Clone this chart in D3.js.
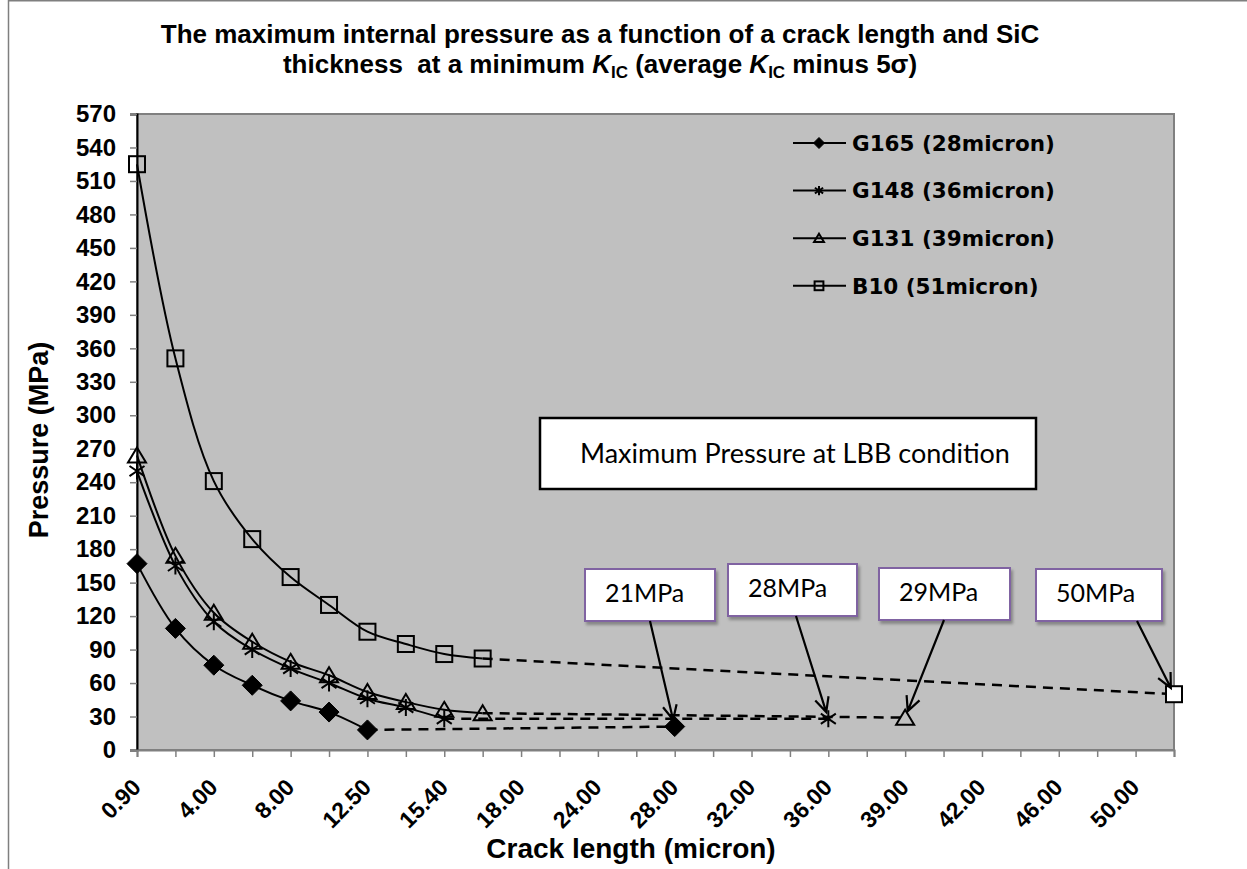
<!DOCTYPE html>
<html>
<head>
<meta charset="utf-8">
<script src="https://cdn.jsdelivr.net/npm/d3@7"></script>
<style>
  body { margin: 0; background: #fff; }
  svg { display: block; }
</style>
</head>
<body>
<div id="chart"></div>
<script>
// crack length categories on the x axis (every other one carries a label)
const crackLengths = ["0.90", "2.00", "4.00", "6.00", "8.00", "10.00", "12.50", "14.00", "15.40", "16.00",
    "18.00", "20.00", "24.00", "26.00", "28.00", "30.00", "32.00", "34.00", "36.00", "38.00",
    "39.00", "40.00", "42.00", "44.00", "46.00", "48.00", "50.00", "51.00"];
const pressureTicks = d3.range(0, 571, 30);

const seriesNames = ["G165 (28micron)", "G148 (36micron)", "G131 (39micron)", "B10 (51micron)"];
const markerTypes = ["diamond", "star", "triangle", "square"];

// pressure (MPa) at the first crack lengths, one array per sample
const g165 = [167, 109, 76, 58, 44, 34, 18];
const g148 = [250, 165, 115, 90, 73, 60, 46, 38, 28];
const g131 = [264, 174, 123, 97, 79, 67, 52, 43, 36, 33];
const b10 = [525, 351, 241, 189, 155, 130, 106, 95, 86, 82];

// maximum pressure at the LBB condition (crack length = SiC thickness)
const lbbCrack = ["28.00", "36.00", "39.00", "51.00"];
const lbbPressure = [21, 28, 29, 50];
const lbbLabels = ["21MPa", "28MPa", "29MPa", "50MPa"];

const width = 1247, height = 869;
const plot = {left: 137, right: 1174, top: 114, bottom: 750};

const svg = d3.select("#chart").append("svg")
    .attr("width", width)
    .attr("height", height)
    .style("font-family", "'Liberation Sans', Arial, sans-serif");

const defs = svg.append("defs");
defs.append("filter").attr("id", "shadow")
    .attr("x", "-10%").attr("y", "-10%").attr("width", "130%").attr("height", "140%")
    .append("feDropShadow")
    .attr("dx", 2).attr("dy", 3).attr("stdDeviation", 1.5)
    .attr("flood-color", "#000").attr("flood-opacity", 0.3);

// outer chart frame (only top and left edges fall inside the page)
svg.append("path")
    .attr("d", `M8.5,${height}V0.75H${width}`)
    .attr("fill", "none")
    .attr("stroke", "#7f7f7f")
    .attr("stroke-width", 1.5);

const x = d3.scalePoint().domain(crackLengths).range([plot.left, plot.right]);
const y = d3.scaleLinear().domain([0, 570]).range([plot.bottom, plot.top]);

// plot area
svg.append("rect")
    .attr("x", plot.left).attr("y", plot.top)
    .attr("width", plot.right - plot.left).attr("height", plot.bottom - plot.top)
    .attr("fill", "#c0c0c0")
    .attr("stroke", "#808080")
    .attr("stroke-width", 2);

// axes
const yAxis = svg.append("g")
    .attr("transform", `translate(${plot.left},0)`)
    .call(d3.axisLeft(y).tickValues(pressureTicks).tickSize(7).tickPadding(14).tickFormat(d3.format("d")));
yAxis.select(".domain").attr("stroke", "#000").attr("stroke-width", 2);
yAxis.selectAll(".tick line").attr("stroke", "#808080").attr("stroke-width", 1.5);
yAxis.selectAll(".tick text")
    .attr("fill", "#000")
    .style("font-size", "24px")
    .style("font-weight", "bold");

const xAxis = svg.append("g")
    .attr("transform", `translate(0,${plot.bottom})`)
    .call(d3.axisBottom(x).tickSize(7).tickFormat((d, i) => i % 2 === 0 ? d : ""));
xAxis.select(".domain").attr("stroke", "#808080").attr("stroke-width", 2);
xAxis.selectAll(".tick line").attr("stroke", "#808080").attr("stroke-width", 1.5);
xAxis.selectAll(".tick text")
    .attr("fill", "#000")
    .attr("text-anchor", "end")
    .attr("y", 0).attr("dy", "0.35em")
    .attr("transform", "translate(-1,33) rotate(-45)")
    .style("font-size", "23px")
    .style("font-weight", "bold");

// axis titles
svg.append("text")
    .attr("x", 631).attr("y", 858)
    .attr("text-anchor", "middle")
    .style("font-size", "28px").style("font-weight", "bold")
    .text("Crack length (micron)");

svg.append("text")
    .attr("transform", "translate(48,440) rotate(-90)")
    .attr("text-anchor", "middle")
    .style("font-size", "27px").style("font-weight", "bold")
    .text("Pressure (MPa)");

// title
const title = svg.append("text")
    .attr("text-anchor", "middle")
    .style("font-size", "26px").style("font-weight", "bold");
title.append("tspan").attr("x", 600).attr("y", 43)
    .text("The maximum internal pressure as a function of a crack length and SiC");
const t2 = title.append("tspan").attr("x", 600).attr("y", 73);
t2.append("tspan").text("thickness\u00a0 at a minimum ");
t2.append("tspan").style("font-style", "italic").text("K");
t2.append("tspan").attr("dy", 5).style("font-size", "17px").text("IC");
t2.append("tspan").attr("dy", -5).text(" (average ");
t2.append("tspan").style("font-style", "italic").text("K");
t2.append("tspan").attr("dy", 5).style("font-size", "17px").text("IC");
t2.append("tspan").attr("dy", -5).text(" minus 5\u03c3)");

// marker shapes
function drawMarker(g, type, r, fill) {
    if (type === "diamond") {
        g.append("path").attr("d", `M0,${-r}L${r},0L0,${r}L${-r},0Z`)
            .attr("fill", "#000").attr("stroke", "#000");
    } else if (type === "square") {
        const s = r * 0.8;
        g.append("rect").attr("x", -s).attr("y", -s).attr("width", 2 * s).attr("height", 2 * s)
            .attr("fill", fill).attr("stroke", "#000").attr("stroke-width", 2);
    } else if (type === "triangle") {
        g.append("path").attr("d", `M0,${-r * 0.8}L${r * 0.9},${r * 0.7}L${-r * 0.9},${r * 0.7}Z`)
            .attr("fill", fill).attr("stroke", "#000").attr("stroke-width", 2);
    } else if (type === "star") {
        const h = r * 0.85, w = r * 0.75;
        g.append("path")
            .attr("d", `M0,${-h}V${h}M${-w},${-h * 0.6}L${w},${h * 0.6}M${-w},${h * 0.6}L${w},${-h * 0.6}`)
            .attr("fill", "none").attr("stroke", "#000").attr("stroke-width", 2);
    }
}

const allSeries = [g165, g148, g131, b10];
const smooth = d3.line()
    .x(d => x(d.crack))
    .y(d => y(d.value))
    .curve(d3.curveCatmullRom.alpha(0.5));
const straight = d3.line().x(d => x(d.crack)).y(d => y(d.value));

allSeries.forEach((values, s) => {
    const pts = values.map((v, i) => ({crack: crackLengths[i], value: v}));
    const last = pts[pts.length - 1];
    const end = {crack: lbbCrack[s], value: lbbPressure[s]};

    svg.append("path")
        .attr("d", straight([last, end]))
        .attr("fill", "none").attr("stroke", "#000")
        .attr("stroke-width", 2.5).attr("stroke-dasharray", "10,7");

    svg.append("path")
        .attr("d", smooth(pts))
        .attr("fill", "none").attr("stroke", "#000").attr("stroke-width", 2);

    pts.forEach(p => {
        const g = svg.append("g").attr("transform", `translate(${x(p.crack)},${y(p.value)})`);
        drawMarker(g, markerTypes[s], 10, "none");
    });
    const ge = svg.append("g").attr("transform", `translate(${x(end.crack)},${y(end.value)})`);
    drawMarker(ge, markerTypes[s], 10, s === 3 ? "#fff" : "none");
});

// legend
seriesNames.forEach((name, i) => {
    const ly = 143 + i * 47.6;
    const g = svg.append("g").attr("transform", `translate(0,${ly})`);
    g.append("line").attr("x1", 793).attr("x2", 846).attr("y1", 0).attr("y2", 0)
        .attr("stroke", "#000").attr("stroke-width", 2);
    drawMarker(g.append("g").attr("transform", "translate(819,0)"), markerTypes[i], 5.5, "none");
    g.append("text").attr("x", 852).attr("y", 0).attr("dy", "0.36em")
        .style("font-family", "'DejaVu Sans', Verdana, sans-serif")
        .style("font-size", "21.5px").style("font-weight", "bold")
        .text(name);
});

// LBB condition note
svg.append("rect")
    .attr("x", 540).attr("y", 418).attr("width", 496).attr("height", 71)
    .attr("fill", "#fff").attr("stroke", "#000").attr("stroke-width", 2.5);
svg.append("text")
    .attr("x", 795).attr("y", 454).attr("dy", "0.35em")
    .attr("text-anchor", "middle")
    .style("font-family", "Lato, 'Open Sans', sans-serif")
    .style("font-size", "27px")
    .text("Maximum Pressure at LBB condition");

// callouts pointing at the LBB points
const calloutBoxes = [
    {x: 585, y: 569, w: 130, h: 52, ax: 650},
    {x: 728, y: 564, w: 129, h: 52, ax: 796},
    {x: 879, y: 568, w: 131, h: 52, ax: 944},
    {x: 1036, y: 569, w: 126, h: 52, ax: 1137}
];

calloutBoxes.forEach((b, i) => {
    const g = svg.append("g");
    g.append("rect")
        .attr("x", b.x).attr("y", b.y).attr("width", b.w).attr("height", b.h)
        .attr("fill", "#fff").attr("stroke", "#8064a2").attr("stroke-width", 2)
        .attr("filter", "url(#shadow)");
    g.append("text")
        .attr("x", b.x + 20).attr("y", b.y + 24).attr("dy", "0.35em")
        .style("font-family", "Lato, 'Open Sans', sans-serif")
        .style("font-size", "25px")
        .text(lbbLabels[i]);

    // arrow from the box to the point, stopping just short of the marker
    const px = x(lbbCrack[i]), py = y(lbbPressure[i]);
    const sx = b.ax, sy = b.y + b.h;
    const ang = Math.atan2(py - sy, px - sx);
    const tx = px - 7 * Math.cos(ang), ty = py - 7 * Math.sin(ang);
    const head = 16, spread = 0.45;
    g.append("path")
        .attr("d", `M${sx},${sy}L${tx},${ty}` +
            `M${tx - head * Math.cos(ang - spread)},${ty - head * Math.sin(ang - spread)}L${tx},${ty}` +
            `L${tx - head * Math.cos(ang + spread)},${ty - head * Math.sin(ang + spread)}`)
        .attr("fill", "none").attr("stroke", "#000").attr("stroke-width", 2.2);
});
</script>
</body>
</html>
